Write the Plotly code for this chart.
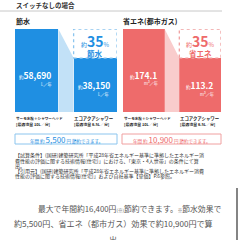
import plotly.graph_objects as go

# ---- data ----
categories = ["サーモ水栓＋シャワーヘッド", "エコアクアシャワー"]
flow_labels = ["[最適流量 10L／分]", "[最適流量 6.5L／分]"]
water_values = [58690, 38150]      # L/年
gas_values = [174.1, 113.2]        # m3/年
water_text = ["58,690", "38,150"]
gas_text = ["174.1", "113.2"]
saving_pct = ["35", "35"]
saving_yen = ["5,500", "10,900"]

FONT = "Noto Sans CJK JP"
BLUE = "#1f8fe2"
BLUE_L = "#c2e1f7"
BLUE_D = "#8cc5ee"
RED = "#ee6b6b"
RED_L = "#f9cccc"
RED_D = "#f0a0a0"
W = 0.74

def px(x, y):
    return x / 240.0, 1 - y / 240.0

fig = go.Figure()

def panel(vals, color, light, xa, ya):
    fig.add_trace(go.Scatter(
        x=[W / 2, 1 - W / 2, 1 - W / 2, W / 2, W / 2],
        y=[vals[0], vals[1], 0, 0, vals[0]],
        fill="toself", fillcolor=light, mode="lines", line=dict(width=0),
        xaxis=xa, yaxis=ya, hoverinfo="skip", showlegend=False))
    fig.add_trace(go.Bar(
        x=[0, 1], y=vals, width=W, marker=dict(color=color, line=dict(width=0)),
        xaxis=xa, yaxis=ya, showlegend=False, hoverinfo="skip"))

panel(water_values, BLUE, BLUE_L, "x", "y")
panel(gas_values, RED, RED_L, "x2", "y2")

ytop, ybot = px(0, 29)[1], px(0, 112)[1]
fig.update_layout(
    xaxis=dict(domain=[15 / 240, 117 / 240], range=[-W / 2, 1 + W / 2], visible=False),
    yaxis=dict(domain=[ybot, ytop], range=[0, max(water_values)], visible=False),
    xaxis2=dict(domain=[123 / 240, 221 / 240], range=[-W / 2, 1 + W / 2], visible=False, anchor="y2"),
    yaxis2=dict(domain=[ybot, ytop], range=[0, max(gas_values)], visible=False, anchor="x2"),
)

shapes = []
for xr, yr, vals, c in [("x", "y", water_values, BLUE_D), ("x2", "y2", gas_values, RED_D)]:
    shapes.append(dict(type="rect", xref=xr, yref=yr, x0=1 - W / 2, x1=1 + W / 2,
                       y0=vals[1], y1=vals[0], line=dict(color=c, width=1.3, dash="dot")))

x0, y0 = px(0, 11); x1, _ = px(222, 11)
shapes.append(dict(type="line", xref="paper", yref="paper", x0=x0, x1=x1, y0=y0, y1=y0,
                   line=dict(color="#c8c8c8", width=1)))
for (a, b, c) in [((15, 134), (117, 144), BLUE_D), ((122, 134), (221, 144), RED_D)]:
    ax, ay = px(*a); bx, by = px(*b)
    shapes.append(dict(type="rect", xref="paper", yref="paper", x0=ax, x1=bx, y0=by, y1=ay,
                       line=dict(color=c, width=1)))
vx, vy0 = px(237, 188); _, vy1 = px(237, 240)
shapes.append(dict(type="line", xref="paper", yref="paper", x0=vx, x1=vx, y0=vy0, y1=vy1,
                   line=dict(color="#666666", width=1.6)))

ann = []
def T(x, y, text, size, color="#333333", xanchor="left", bold=False):
    ax, ay = px(x, y)
    if bold:
        text = "<b>" + text + "</b>"
    ann.append(dict(x=ax, y=ay, xref="paper", yref="paper", text=text, showarrow=False,
                    xanchor=xanchor, yanchor="middle", borderpad=0,
                    font=dict(family=FONT, size=size, color=color)))

T(15, 5, "スイッチなしの場合", 6.5, "#333333", bold=True)
T(15, 21, "節水", 7, "#222222", bold=True)
T(122, 21, "省エネ(都市ガス)", 7, "#222222", bold=True)

def small(t, s):
    return "<span style='font-size:%spx'>%s</span>" % (s, t)

T(35, 75, small("約", 4.5) + "<b>" + water_text[0] + "</b>", 8.5, "white", "center")
T(46, 84, "L／年", 4.2, "white", "center")
T(94, 85.5, small("約", 4.5) + "<b>" + water_text[1] + "</b>", 8.5, "white", "center")
T(103, 94.5, "L／年", 4.2, "white", "center")
T(143, 75, small("約", 4.5) + "<b>" + gas_text[0] + "</b>", 8.5, "white", "center")
T(151, 83, "m³／年", 4.2, "white", "center")
T(199, 85.5, small("約", 4.5) + "<b>" + gas_text[1] + "</b>", 8.5, "white", "center")
T(207, 94.5, "m³／年", 4.2, "white", "center")

T(95, 41.5, small("約", 6) + "<b>" + saving_pct[0] + "</b>" + small("%", 6), 14, BLUE, "center")
T(95, 53.5, "節水", 7.5, BLUE, "center", bold=True)
T(200, 41.5, small("約", 6) + "<b>" + saving_pct[1] + "</b>" + small("%", 6), 14, RED, "center")
T(200, 53.5, "省エネ", 7.5, RED, "center", bold=True)

for x in (15, 123):
    T(x, 118, categories[0], 3.6, "#222222", bold=True)
    T(x, 124, flow_labels[0], 3.9, "#222222", bold=True)
for x in (73, 179):
    T(x, 118, categories[1], 4.4, "#222222", bold=True)
    T(x, 124, flow_labels[1], 3.9, "#222222", bold=True)

T(66, 139, small("年間 約 ", 4.5) + saving_yen[0] + small(" 円 節約できます。", 4.5), 8, BLUE, "center")
T(171.5, 139, small("年間 約 ", 4.5) + saving_yen[1] + small(" 円 節約できます。", 4.5), 8, RED, "center")

notes = [
    (155, "【試算条件】(国研)建築研究所「平成28年省エネルギー基準に準拠したエネルギー消"),
    (160.5, "費性能の評価に関する技術情報(住宅)」における、「東京・4人世帯」の条件にて算"),
    (165.5, "出。"),
    (170.5, "【引用元】(国研)建築研究所「平成28年省エネルギー基準に準拠したエネルギー消費"),
    (176, "性能の評価に関する技術情報(住宅)」および自社基準【単価】P.6参照。"),
]
for y, t in notes:
    T(14, y, t, 5.0, "#333333")

T(37, 208, "最大で年間約16,400円" + small("(※)", 4.5) + "節約できます。" + small("※", 4.5) + "節水効果で", 7.8, "#555555")
T(13, 223, "約5,500円、省エネ（都市ガス）効果で約10,900円で算", 8.1, "#555555")
T(113, 239, "出", 8.1, "#555555", "center")

fig.update_layout(
    width=240, height=240, margin=dict(l=0, r=0, t=0, b=0),
    paper_bgcolor="white", plot_bgcolor="white",
    shapes=shapes, annotations=ann, bargap=0, showlegend=False,
    font=dict(family=FONT),
)
fig.write_html("out.html", config=dict(displayModeBar=False, staticPlot=True))
